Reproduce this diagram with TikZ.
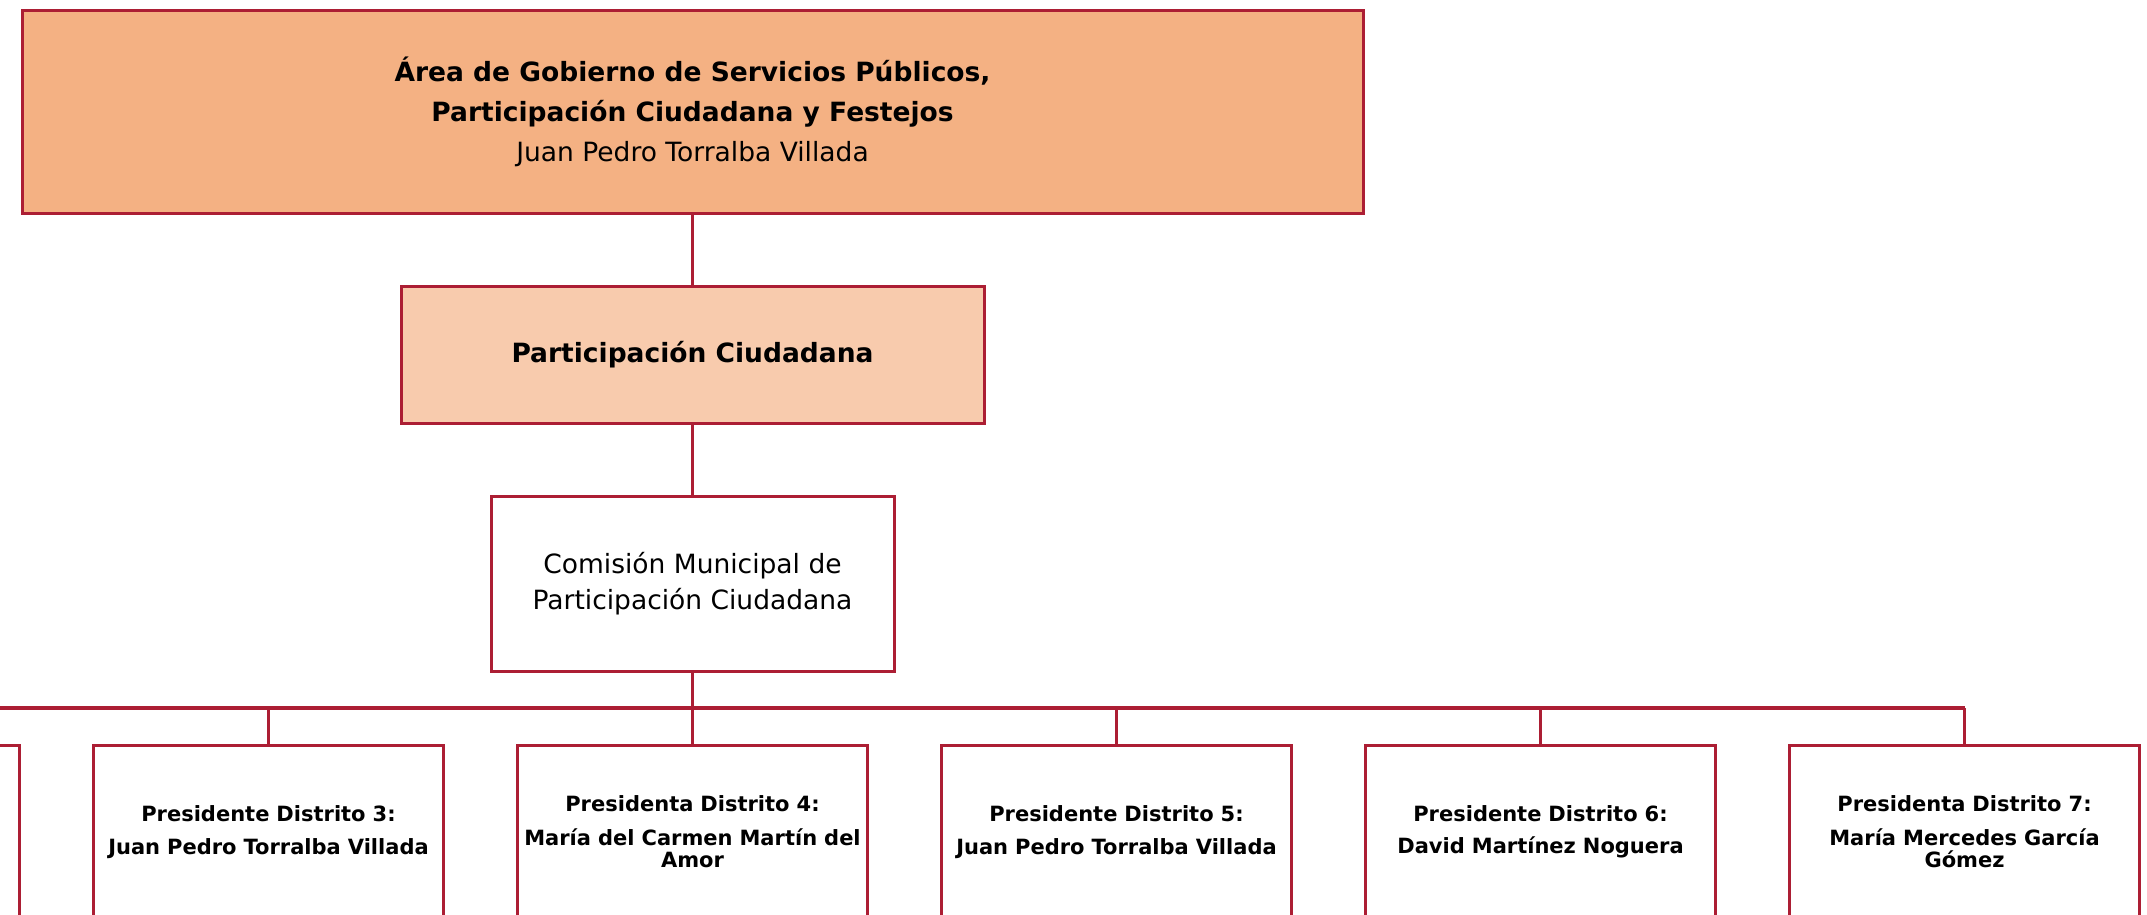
\documentclass[tikz,border=0pt]{standalone}
\usepackage{fontspec}
\setmainfont{DejaVu Sans}
\usetikzlibrary{positioning}

\definecolor{orgline}{RGB}{172,30,52}
\definecolor{areafill}{RGB}{244,177,131}
\definecolor{partfill}{RGB}{248,203,173}

\tikzset{
  orgbox/.style={draw=orgline, line width=3pt, rectangle, align=center, inner sep=4pt},
  distbox/.style={orgbox, fill=white, minimum width=350pt, minimum height=174pt,
    text width=340pt, font=\bfseries\fontsize{21}{22.5}\selectfont},
  link/.style={draw=orgline, line width=2.8pt},
}

\begin{document}
\begin{tikzpicture}[x=1pt, y=-1pt]
  \useasboundingbox (0,0) rectangle (2147,914);
  \clip (0,0) rectangle (2147,914);

  % upper levels
  \node[orgbox, fill=areafill, minimum width=1341pt, minimum height=203pt,
    font=\fontsize{26.5}{40}\selectfont] (area) at (692.5,111.5)
    {\textbf{Área de Gobierno de Servicios Públicos,}\\
     \textbf{Participación Ciudadana y Festejos}\\
     Juan Pedro Torralba Villada};
  \node[orgbox, fill=partfill, minimum width=583pt, minimum height=137pt,
    font=\bfseries\fontsize{26.5}{32}\selectfont] (partic) at (692.5,354.5)
    {Participación Ciudadana};
  \node[orgbox, fill=white, minimum width=403pt, minimum height=175pt,
    font=\fontsize{26.5}{35.5}\selectfont] (comision) at (692.5,583.5)
    {Comisión Municipal de\\Participación Ciudadana};

  \draw[link] (area) -- (partic);
  \draw[link] (partic) -- (comision);

  % districts
  \node[distbox] (d2) at ({692.5-2*424},832) {};
  \foreach \k/\who in {
      3/{Presidente Distrito 3:\\[10pt]Juan Pedro Torralba Villada},
      4/{Presidenta Distrito 4:\\[11pt]María del Carmen Martín del\\Amor},
      5/{Presidente Distrito 5:\\[10pt]Juan Pedro Torralba Villada},
      6/{Presidente Distrito 6:\\[10pt]David Martínez Noguera},
      7/{Presidenta Distrito 7:\\[11pt]María Mercedes García\\Gómez}}
    \node[distbox] (d\k) at ({692.5+(\k-4)*424},832) {\who};

  \coordinate (bus) at (692.5,708);
  \draw[link] (comision) -- (bus);
  \draw[link, line width=3.5pt] (bus -| d2) -- (bus -| d7);
  \foreach \k in {2,...,7}
    \draw[link] (bus -| d\k) -- (d\k);
\end{tikzpicture}
\end{document}
